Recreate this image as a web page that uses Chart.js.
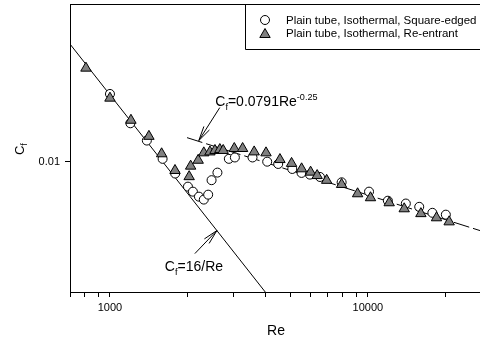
<!DOCTYPE html>
<html>
<head>
<meta charset="utf-8">
<script src="https://cdn.jsdelivr.net/npm/chart.js@4.4.1/dist/chart.umd.min.js"></script>
<style>
  html, body { margin: 0; padding: 0; background: #fff; }
</style>
</head>
<body>
<canvas id="cf" width="480" height="340"></canvas>
<script>
/* Friction factor vs Reynolds number, plain tube, two inlet types */

const FONT = '"Liberation Sans", Arial, sans-serif';
const INK = '#000';
const TRI = '#808080';

// square-edged inlet (open circles)
const sqRe = [1000, 1200, 1390, 1600, 1790, 2006, 2097, 2213, 2311, 2403, 2477, 2610,
  2890, 3050, 3570, 4070, 4490, 5090, 5530, 5960, 6520, 7910, 10100, 11950, 14030,
  15810, 17780, 20050];
const sqCf = [0.0161, 0.0131, 0.0116, 0.0102, 0.0092, 0.00839, 0.0081, 0.00782, 0.00766,
  0.00793, 0.00878, 0.00926, 0.0102, 0.0103, 0.0103, 0.0100, 0.00984, 0.0095, 0.00924,
  0.00913, 0.00898, 0.00865, 0.0081, 0.0076, 0.00745, 0.00728, 0.00698, 0.00689];

// re-entrant inlet (grey triangles)
const reRe = [807, 1000, 1206, 1416, 1586, 1787, 2028, 2055, 2198, 2311, 2441, 2553, 2667,
  2748, 3034, 3268, 3623, 4027, 4560, 5059, 5533, 5995, 6357, 6920, 7907, 9121, 10235,
  12092, 13826, 16048, 18450, 20650];
const reCf = [0.0193, 0.01563, 0.01338, 0.01195, 0.01057, 0.0094, 0.0090, 0.00969, 0.0101,
  0.01064, 0.01071, 0.01082, 0.01089, 0.01082, 0.01097, 0.01097, 0.01071, 0.01064, 0.01015,
  0.00988, 0.00951, 0.00929, 0.00907, 0.00877, 0.00852, 0.00798, 0.00776, 0.00749, 0.00718,
  0.00694, 0.00674, 0.00655];

// correlation lines, end points
const lamRe = [700, 4000];
const lamCf = [0.02286, 0.004];
const blaRe = [1990, 27200];
const blaCf = [0.01184, 0.00616];

// axes
const xTicks = [700, 800, 900, 1000, 2000, 3000, 4000, 5000, 6000, 7000, 8000, 9000, 10000, 20000];
const xLabels = [1000, 10000];
const yTicks = [0.01];

// where the annotation arrows point (data units)
const blaTip = { re: 2210, cf: 0.0116 };
const lamTip = { re: 2597, cf: 0.00616 };

const pts = (xs, ys) => xs.map((x, i) => ({ x, y: ys[i] }));

function richText(ctx, parts, x, y, size) {
  let cx = x;
  parts.forEach(([txt, kind]) => {
    const s = kind === 'n' ? size : size * 0.65;
    const dy = kind === 'sub' ? size * 0.3 : kind === 'sup' ? -size * 0.43 : 0;
    ctx.font = s + 'px ' + FONT;
    ctx.fillText(txt, cx, y + dy);
    cx += ctx.measureText(txt).width;
  });
  return cx - x;
}

function arrow(ctx, x0, y0, x1, y1) {
  const ang = Math.atan2(y1 - y0, x1 - x0);
  const len = 15, spread = 0.22;
  ctx.beginPath();
  ctx.moveTo(x0, y0); ctx.lineTo(x1, y1);
  ctx.moveTo(x1 - len * Math.cos(ang - spread), y1 - len * Math.sin(ang - spread));
  ctx.lineTo(x1, y1);
  ctx.lineTo(x1 - len * Math.cos(ang + spread), y1 - len * Math.sin(ang + spread));
  ctx.stroke();
}

function marker(ctx, style, x, y) {
  ctx.beginPath();
  if (style === 'circle') {
    ctx.fillStyle = '#fff';
    ctx.arc(x, y, 4.5, 0, Math.PI * 2);
  } else {
    const r = 6;
    ctx.fillStyle = TRI;
    ctx.moveTo(x, y - r);
    ctx.lineTo(x + r * Math.sin(2 * Math.PI / 3), y + r / 2);
    ctx.lineTo(x - r * Math.sin(2 * Math.PI / 3), y + r / 2);
    ctx.closePath();
  }
  ctx.fill();
  ctx.stroke();
}

function noPad(s) {
  s.paddingTop = 0; s.paddingBottom = 0;
  s.paddingLeft = 0; s.paddingRight = 0;
}

const decor = {
  id: 'decor',
  afterDraw(chart) {
    const { ctx, chartArea: a, scales: { x, y } } = chart;
    ctx.save();
    ctx.strokeStyle = INK;
    ctx.fillStyle = INK;
    ctx.lineWidth = 1;

    // top frame line
    ctx.beginPath();
    ctx.moveTo(a.left, a.top + 0.5);
    ctx.lineTo(a.right, a.top + 0.5);
    ctx.stroke();

    // legend box
    ctx.fillStyle = '#fff';
    ctx.fillRect(246, a.top + 1, 240, 44);
    ctx.beginPath();
    ctx.moveTo(245.5, a.top + 0.5);
    ctx.lineTo(245.5, 49.5);
    ctx.lineTo(a.right, 49.5);
    ctx.stroke();
    marker(ctx, 'circle', 265, 20);
    marker(ctx, 'triangle', 265, 34.5);
    ctx.fillStyle = INK;
    ctx.font = '11.5px ' + FONT;
    ctx.textBaseline = 'middle';
    ctx.fillText('Plain tube, Isothermal, Square-edged', 286, 20.5);
    ctx.fillText('Plain tube, Isothermal, Re-entrant', 286, 33.5);

    // annotations
    ctx.textBaseline = 'alphabetic';
    const bx = x.getPixelForValue(blaTip.re), by = y.getPixelForValue(blaTip.cf);
    arrow(ctx, bx + 21, by - 33, bx, by);
    richText(ctx, [['C', 'n'], ['f', 'sub'], ['=0.0791Re', 'n'], ['-0.25', 'sup']], bx + 16.5, by - 35, 14);

    const lx = x.getPixelForValue(lamTip.re), ly = y.getPixelForValue(lamTip.cf);
    arrow(ctx, lx - 22, ly + 23, lx, ly);
    richText(ctx, [['C', 'n'], ['f', 'sub'], ['=16/Re', 'n']], lx - 52, ly + 40, 14);

    // axis titles
    ctx.font = '14px ' + FONT;
    ctx.textAlign = 'center';
    ctx.textBaseline = 'middle';
    ctx.fillText('Re', 276, 331);

    ctx.translate(19, 147);
    ctx.rotate(-Math.PI / 2);
    ctx.textAlign = 'left';
    ctx.textBaseline = 'alphabetic';
    richText(ctx, [['C', 'n'], ['f', 'sub']], -8, 4.5, 13);
    ctx.restore();
  },
};

new Chart(document.getElementById('cf'), {
  type: 'scatter',
  data: {
    datasets: [
      { label: 'Plain tube, Isothermal, Re-entrant', data: pts(reRe, reCf), order: 1,
        pointStyle: 'triangle', pointRadius: 6, pointBackgroundColor: TRI,
        pointBorderColor: INK, pointBorderWidth: 1 },
      { label: 'Plain tube, Isothermal, Square-edged', data: pts(sqRe, sqCf), order: 2,
        pointStyle: 'circle', pointRadius: 4.5, pointBackgroundColor: '#fff',
        pointBorderColor: INK, pointBorderWidth: 1 },
      { label: 'Cf=16/Re', data: pts(lamRe, lamCf), order: 3, showLine: true,
        borderColor: INK, borderWidth: 1, pointRadius: 0 },
      { label: 'Blasius', data: pts(blaRe, blaCf), order: 4, showLine: true,
        borderColor: INK, borderWidth: 1, borderDash: [16, 4], pointRadius: 0 },
    ],
  },
  options: {
    responsive: false,
    animation: false,
    layout: { autoPadding: false, padding: { top: 4, right: 0, left: 0, bottom: 0 } },
    plugins: { legend: { display: false }, tooltip: { enabled: false } },
    scales: {
      x: {
        type: 'logarithmic', min: 700, max: 27200,
        afterFit: (s) => { s.height = 48; noPad(s); },
        afterBuildTicks: (s) => { s.ticks = xTicks.map((v) => ({ value: v })); },
        ticks: { autoSkip: false, maxRotation: 0, color: INK, padding: 4,
          font: { family: FONT, size: 11 },
          callback: (v) => (xLabels.includes(v) ? String(v) : '') },
        grid: { drawOnChartArea: false, drawTicks: true, tickLength: 5, color: INK },
        border: { display: true, color: INK, width: 1 },
      },
      y: {
        type: 'logarithmic', min: 0.004, max: 0.0303,
        afterFit: (s) => { s.width = 70; noPad(s); },
        afterBuildTicks: (s) => { s.ticks = yTicks.map((v) => ({ value: v })); },
        ticks: { autoSkip: false, color: INK, padding: 5,
          font: { family: FONT, size: 11 },
          callback: (v) => String(v) },
        grid: { drawOnChartArea: false, drawTicks: true, tickLength: 5, color: INK },
        border: { display: true, color: INK, width: 1 },
      },
    },
  },
  plugins: [decor],
});
</script>
</body>
</html>
